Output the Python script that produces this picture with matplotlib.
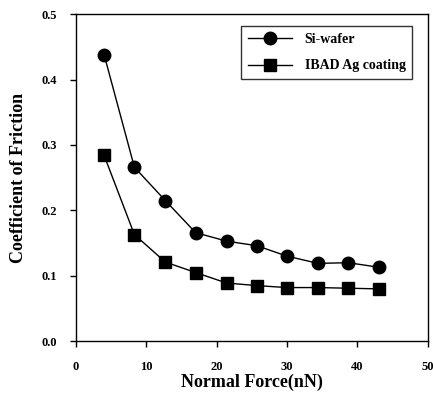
import matplotlib.pyplot as plt

force = [4.0, 8.3, 12.7, 17.0, 21.4, 25.7, 30.0, 34.4, 38.7, 43.1]
si_wafer = [0.438, 0.266, 0.215, 0.166, 0.153, 0.146, 0.130, 0.119, 0.120, 0.113]
ibad_ag = [0.284, 0.163, 0.121, 0.105, 0.089, 0.085, 0.082, 0.082, 0.081, 0.080]

plt.rcParams['font.family'] = ['Liberation Serif', 'DejaVu Serif']
plt.rcParams['font.weight'] = 'bold'

fig = plt.figure(figsize=(4.33, 3.94), dpi=100)
ax = fig.add_axes([0.1755, 0.134, 0.8125, 0.830])

ax.plot(force, si_wafer, color='black', lw=1, marker='o', markersize=9, label='Si-wafer')
ax.plot(force, ibad_ag, color='black', lw=1, marker='s', markersize=8.5, label='IBAD Ag coating')

ax.set_xlim(0, 50)
ax.set_ylim(0, 0.5)
ax.set_xticks([0, 10, 20, 30, 40, 50])
ax.set_yticks([0.0, 0.1, 0.2, 0.3, 0.4, 0.5])
ax.set_yticklabels(['0.0', '0.1', '0.2', '0.3', '0.4', '0.5'])
ax.tick_params(direction='out', length=4, width=1, labelsize=9, pad=10)
for lab in ax.get_xticklabels() + ax.get_yticklabels():
    lab.set_fontweight('bold')
for s in ax.spines.values():
    s.set_linewidth(1)

ax.set_xlabel('Normal Force(nN)', fontsize=13, fontweight='bold', labelpad=1)
ax.set_ylabel('Coefficient of Friction', fontsize=13, fontweight='bold', labelpad=10)

leg = ax.legend(loc='upper right', fontsize=10, frameon=True, fancybox=False,
                edgecolor='black', handlelength=3.2, borderpad=0.45, labelspacing=1.0,
                handletextpad=0.9, borderaxespad=0, bbox_to_anchor=(0.9545, 0.963))
leg.get_frame().set_linewidth(1)
for t in leg.get_texts():
    t.set_fontweight('bold')

fig.savefig('out.png', dpi=100)
